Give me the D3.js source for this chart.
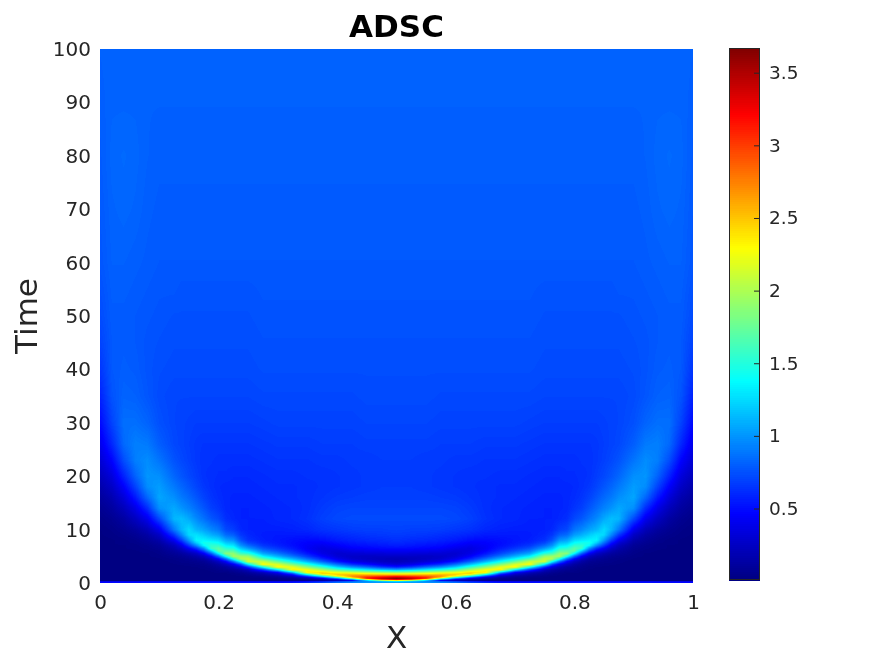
<!DOCTYPE html>
<html>
<head>
<meta charset="utf-8">
<script src="https://cdn.jsdelivr.net/npm/d3@7"></script>
<style>
  body { margin: 0; background: #fff; }
  #chart { position: relative; width: 875px; height: 656px; overflow: hidden; }
  #chart canvas, #chart svg { position: absolute; left: 0; top: 0; }
  text { font-family: "DejaVu Sans", sans-serif; fill: #262626; }
</style>
</head>
<body>
<div id="chart"></div>
<script>
// left half of the field, the right half is its mirror image (x -> 1 - x)
const X_HALF = [0, .02, .04, .06, .08, .1, .125, .1375, .15, .1625, .175, .1875, .2, .2125, .225, .2375, .25, .275, .3, .325, .35, .375, .4, .425, .45, .475, .5];

const TIME = [
  0, .25, .4, .6, .8, 1, 1.25, 1.5, 1.75, 2,
  2.5, 3, 3.5, 4, 4.5, 5, 5.5, 6, 6.5, 7, 7.5, 8,
  9, 10, 12, 14, 16, 18, 20, 23, 26, 30,
  35, 40, 45, 50, 55, 60, 70, 80, 90, 100
];

// one line per x in X_HALF, values at each TIME
const ADSC = [
  [.48,.48,.02,.01,.01,.01,.01,.01,.01,.01, .01,.01,.01,.01,.01,.01,.01,.01,.01,.01,.01,.01, .02,.02,.04,.07,.11,.16,.22,.31,.39,.49, .58,.65,.70,.73,.75,.77,.78,.79,.80,.81],
  [.48,.48,.02,.01,.01,.01,.01,.01,.01,.01, .01,.01,.01,.01,.01,.01,.01,.01,.01,.02,.02,.02, .03,.04,.07,.12,.18,.26,.34,.47,.60,.70, .76,.78,.78,.79,.80,.81,.82,.83,.82,.82],
  [.49,.49,.02,.01,.01,.01,.01,.01,.01,.01, .01,.01,.01,.01,.01,.01,.01,.01,.02,.02,.03,.03, .05,.07,.13,.22,.33,.45,.58,.74,.84,.86, .82,.80,.79,.79,.80,.81,.83,.84,.82,.82],
  [.49,.49,.02,.01,.01,.01,.01,.01,.01,.01, .01,.01,.01,.01,.01,.01,.02,.02,.03,.03,.04,.05, .08,.12,.24,.38,.55,.70,.82,.92,.92,.86, .81,.79,.78,.78,.79,.80,.82,.83,.82,.82],
  [.50,.50,.02,.01,.01,.01,.01,.01,.01,.01, .01,.01,.01,.01,.01,.02,.02,.03,.04,.05,.07,.09, .14,.21,.40,.62,.83,.97,1.0,.97,.90,.82, .77,.76,.76,.77,.78,.79,.80,.81,.81,.82],
  [.50,.50,.02,.01,.01,.01,.01,.01,.01,.01, .01,.01,.01,.01,.02,.03,.04,.05,.07,.09,.12,.16, .26,.40,.72,.98,1.06,1.03,.98,.88,.80,.75, .73,.74,.75,.76,.77,.78,.79,.80,.81,.82],
  [.50,.50,.02,.01,.01,.01,.01,.01,.01,.01, .01,.01,.02,.03,.04,.06,.09,.12,.17,.22,.31,.42, .66,.90,1.12,1.07,.98,.90,.83,.76,.72,.71, .71,.73,.74,.75,.77,.78,.79,.80,.81,.82],
  [.50,.50,.02,.01,.01,.01,.01,.01,.01,.01, .01,.01,.03,.04,.05,.08,.12,.18,.27,.38,.52,.68, .95,1.12,1.15,1.00,.90,.83,.77,.72,.70,.70, .71,.73,.74,.75,.76,.78,.79,.80,.81,.82],
  [.50,.50,.02,.01,.01,.01,.01,.01,.01,.01, .01,.02,.03,.05,.07,.11,.18,.30,.45,.65,.85,1.02, 1.25,1.25,1.08,.93,.84,.77,.72,.69,.68,.69, .71,.73,.74,.75,.76,.78,.79,.80,.81,.82],
  [.50,.50,.02,.01,.01,.01,.01,.01,.01,.01, .02,.02,.04,.06,.10,.16,.26,.42,.65,.95,1.20,1.35, 1.28,1.12,.96,.85,.77,.71,.68,.66,.66,.68, .71,.73,.74,.75,.76,.78,.79,.80,.81,.82],
  [.50,.50,.02,.01,.01,.01,.01,.01,.01,.01, .02,.03,.05,.08,.13,.24,.42,.70,1.00,1.35,1.45,1.35, 1.20,1.05,.87,.77,.70,.66,.64,.64,.65,.68, .71,.73,.74,.75,.76,.78,.79,.80,.81,.82],
  [.50,.50,.02,.01,.01,.01,.01,.01,.01,.02, .03,.05,.08,.14,.25,.45,.78,1.20,1.58,1.55,1.45,1.30, 1.10,.95,.78,.69,.65,.63,.63,.64,.65,.68, .71,.73,.74,.75,.76,.78,.79,.80,.81,.82],
  [.50,.50,.02,.01,.01,.01,.01,.02,.02,.03, .05,.08,.14,.25,.45,.85,1.35,1.72,1.70,1.55,1.40,1.25, 1.03,.88,.72,.65,.62,.61,.62,.63,.65,.68, .71,.73,.74,.75,.76,.78,.79,.80,.81,.82],
  [.50,.50,.02,.01,.01,.01,.01,.02,.02,.03, .07,.12,.24,.46,.85,1.45,1.88,1.70,1.52,1.35,1.20,1.06, .85,.72,.63,.60,.60,.60,.62,.63,.65,.68, .71,.73,.74,.75,.76,.78,.79,.80,.81,.82],
  [.50,.50,.02,.01,.01,.01,.02,.02,.03,.05, .10,.20,.42,.85,1.45,1.98,1.90,1.68,1.48,1.30,1.15,1.00, .80,.68,.60,.59,.59,.60,.61,.63,.65,.68, .71,.73,.74,.75,.76,.78,.79,.80,.81,.82],
  [.50,.50,.02,.01,.01,.01,.02,.03,.05,.08, .15,.35,.75,1.40,2.02,1.95,1.62,1.38,1.18,1.00,.88,.76, .66,.60,.58,.58,.59,.60,.61,.63,.65,.68, .71,.73,.74,.75,.76,.78,.79,.80,.81,.82],
  [.50,.50,.02,.01,.01,.02,.03,.05,.08,.12, .25,.65,1.35,2.10,2.10,1.90,1.55,1.25,1.02,.85,.72,.64, .60,.58,.58,.58,.59,.60,.61,.63,.65,.68, .71,.73,.74,.75,.76,.78,.79,.80,.81,.82],
  [.50,.50,.02,.01,.02,.03,.06,.10,.16,.26, .70,1.45,2.30,2.10,1.70,1.35,1.08,.90,.76,.66,.60,.57, .56,.57,.58,.59,.60,.61,.62,.64,.66,.69, .72,.74,.75,.76,.77,.78,.79,.80,.81,.82],
  [.50,.50,.03,.02,.03,.06,.11,.20,.32,.50, 1.35,2.33,2.15,1.75,1.38,1.10,.90,.75,.65,.58,.55,.54, .55,.57,.60,.60,.61,.62,.63,.65,.67,.70, .72,.74,.75,.76,.77,.78,.79,.80,.81,.82],
  [.52,.52,.04,.03,.06,.12,.25,.45,.75,1.20, 2.35,2.20,1.80,1.42,1.12,.88,.72,.62,.55,.51,.50,.51, .55,.58,.61,.61,.62,.62,.63,.65,.67,.70, .72,.74,.75,.76,.77,.78,.79,.80,.81,.82],
  [.60,.60,.05,.06,.15,.30,.70,1.20,1.85,2.38, 2.25,1.85,1.48,1.12,.85,.66,.54,.46,.43,.44,.46,.49, .55,.60,.64,.63,.63,.63,.64,.65,.67,.70, .72,.74,.75,.76,.77,.78,.79,.80,.81,.82],
  [.70,.70,.08,.15,.35,.70,1.35,2.05,2.45,2.40, 1.95,1.55,1.15,.82,.60,.46,.38,.35,.36,.40,.45,.50, .58,.64,.69,.67,.65,.64,.64,.66,.68,.70, .72,.74,.75,.76,.77,.78,.79,.80,.81,.82],
  [.85,.85,.15,.35,.75,1.35,2.15,2.50,2.40,2.20, 1.65,1.20,.85,.55,.40,.32,.30,.33,.39,.45,.50,.55, .61,.66,.72,.70,.67,.65,.65,.66,.68,.70, .72,.74,.75,.76,.77,.78,.79,.80,.81,.82],
  [.95,.95,.30,.75,1.60,2.40,2.70,2.60,2.40,2.10, 1.45,.98,.62,.40,.29,.27,.31,.38,.45,.50,.54,.58, .63,.68,.73,.71,.68,.66,.66,.67,.68,.70, .72,.74,.75,.76,.77,.78,.79,.80,.81,.82],
  [1.0,1.0,.90,1.90,3.00,3.10,2.90,2.60,2.30,2.00, 1.30,.82,.50,.32,.25,.26,.32,.40,.47,.52,.56,.60, .65,.69,.73,.71,.69,.67,.67,.67,.69,.71, .73,.74,.75,.76,.77,.78,.79,.80,.81,.82],
  [1.03,1.05,1.60,2.80,3.45,3.30,3.00,2.60,2.25,1.90, 1.15,.65,.38,.26,.22,.26,.33,.41,.49,.54,.58,.61, .66,.69,.73,.71,.69,.68,.67,.68,.69,.71, .73,.74,.75,.76,.77,.78,.79,.80,.81,.82],
  [1.05,1.10,2.00,3.10,3.67,3.50,3.10,2.60,2.20,1.85, 1.05,.55,.32,.22,.20,.26,.34,.42,.50,.56,.60,.63, .67,.70,.73,.71,.69,.68,.68,.68,.69,.71, .73,.74,.75,.76,.77,.78,.79,.80,.81,.82]
];

const X_TICKS = [0, .2, .4, .6, .8, 1];
const Y_TICKS = [0, 10, 20, 30, 40, 50, 60, 70, 80, 90, 100];
const C_TICKS = [.5, 1, 1.5, 2, 2.5, 3, 3.5];
const C_RANGE = [.008, 3.67];

const JET_STOPS = [0, .125, .375, .625, .875, 1];
const JET_COLORS = ["#000080", "#0000ff", "#00ffff", "#ffff00", "#ff0000", "#800000"];
const N_LEVELS = 256;

const WIDTH = 875, HEIGHT = 656;
const PLOT = { left: 100, right: 693, top: 49, bottom: 583 };
const BAR = { left: 729, right: 760, top: 48, bottom: 580 };

let x = d3.scaleLinear().domain([0, 1]).range([PLOT.left, PLOT.right]);
let y = d3.scaleLinear().domain([0, 100]).range([PLOT.bottom, PLOT.top]);
let c_axis = d3.scaleLinear().domain(C_RANGE).range([BAR.bottom, BAR.top]);

// jet colormap in flat levels
let jet_ramp = d3.scaleLinear().domain(JET_STOPS).range(JET_COLORS).interpolate(d3.interpolateRgb);
let jet_levels = d3.range(N_LEVELS).map(i => jet_ramp((i + .5) / N_LEVELS));
let color = d3.scaleQuantize().domain(C_RANGE).range(jet_levels);

function lookup(px, t) {
    let fx = Math.min(px, 1 - px);
    let i = Math.min(d3.bisectRight(X_HALF, fx), X_HALF.length - 1);
    let j = Math.min(d3.bisectRight(TIME, t), TIME.length - 1);
    let u = (fx - X_HALF[i - 1]) / (X_HALF[i] - X_HALF[i - 1]);
    let v = (t - TIME[j - 1]) / (TIME[j] - TIME[j - 1]);
    let a = ADSC[i - 1][j - 1] * (1 - v) + ADSC[i - 1][j] * v;
    let b = ADSC[i][j - 1] * (1 - v) + ADSC[i][j] * v;
    return a * (1 - u) + b * u;
}

function draw_field() {
    let canvas = d3.select("#chart").append("canvas")
        .attr("width", WIDTH).attr("height", HEIGHT).node();
    let ctx = canvas.getContext("2d");
    let w = PLOT.right - PLOT.left, h = PLOT.bottom - PLOT.top;
    let img = ctx.createImageData(w, h);
    let rgb = new Map(jet_levels.map(k => [k, d3.rgb(k)]));
    for (let r = 0; r < h; r++) {
        let t = y.invert(PLOT.top + r + .5);
        for (let q = 0; q < w; q++) {
            let k = rgb.get(color(lookup(x.invert(PLOT.left + q + .5), t)));
            let o = (r * w + q) * 4;
            img.data[o] = k.r;
            img.data[o + 1] = k.g;
            img.data[o + 2] = k.b;
            img.data[o + 3] = 255;
        }
    }
    ctx.putImageData(img, PLOT.left, PLOT.top);
}

function draw_axes(svg) {
    let x_axis = svg.append("g")
        .attr("transform", `translate(0,${PLOT.bottom})`)
        .call(d3.axisBottom(x).tickValues(X_TICKS).tickSize(0).tickPadding(12).tickFormat(d3.format("")));
    let y_axis = svg.append("g")
        .attr("transform", `translate(${PLOT.left},0)`)
        .call(d3.axisLeft(y).tickValues(Y_TICKS).tickSize(0).tickPadding(9));
    [x_axis, y_axis].forEach(a => {
        a.select(".domain").remove();
        a.selectAll("text").style("font-size", "20px").style("font-family", null);
    });

    svg.append("text").attr("x", 396.5).attr("y", 37)
        .attr("text-anchor", "middle")
        .style("font-size", "31px").style("font-weight", "bold").style("fill", "#000")
        .text("ADSC");
    svg.append("text").attr("x", 396.5).attr("y", 648)
        .attr("text-anchor", "middle").style("font-size", "31px")
        .text("X");
    svg.append("text").attr("transform", "translate(37,316) rotate(-90)")
        .attr("text-anchor", "middle").style("font-size", "31px")
        .text("Time");
}

function draw_colorbar(svg) {
    let bar = svg.append("g");
    let levels = d3.range(N_LEVELS);
    let level_h = (BAR.bottom - BAR.top) / N_LEVELS;
    bar.selectAll("rect").data(levels).enter().append("rect")
        .attr("x", BAR.left)
        .attr("width", BAR.right - BAR.left)
        .attr("y", d => BAR.bottom - (d + 1) * level_h)
        .attr("height", level_h + .5)
        .attr("shape-rendering", "crispEdges")
        .attr("fill", d => jet_levels[d]);
    bar.append("rect")
        .attr("x", BAR.left + .5).attr("y", BAR.top + .5)
        .attr("width", BAR.right - BAR.left - 1).attr("height", BAR.bottom - BAR.top - 1)
        .attr("fill", "none").attr("stroke", "#262626");

    let axis = svg.append("g")
        .attr("transform", `translate(${BAR.right - 1},0)`)
        .call(d3.axisRight(c_axis).tickValues(C_TICKS).tickSize(-5).tickFormat(d3.format("")));
    axis.select(".domain").remove();
    axis.selectAll("line").attr("stroke", "#262626");
    axis.selectAll("text").attr("x", 10).style("font-size", "18.5px").style("font-family", null);
}

draw_field();
let svg = d3.select("#chart").append("svg").attr("width", WIDTH).attr("height", HEIGHT);
draw_axes(svg);
draw_colorbar(svg);
</script>
</body>
</html>
